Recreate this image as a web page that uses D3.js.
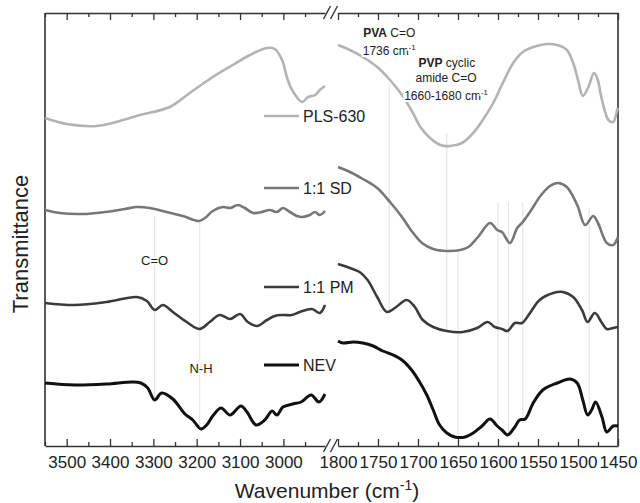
<!DOCTYPE html>
<html>
<head>
<meta charset="utf-8">
<script src="https://cdn.jsdelivr.net/npm/d3@7"></script>
<style>
body{margin:0;background:#fff}
svg{display:block;font-family:"Liberation Sans",Arial,sans-serif}
</style>
</head>
<body>
<svg id="chart" width="640" height="503"></svg>
<script>
// [wavenumber cm-1, transmittance a.u.]
var plsLeft = [[3550,328],[3500,322],[3431,320],[3394,323],[3331,331],[3262,339],[3216,353],[3163,369],[3117,381],[3077,391],[3038,398],[3020,397],[3003,386],[2992,369],[2980,356],[2957,344],[2943,349],[2927,351],[2916,356],[2904,360]];
var plsRight = [[1800,401],[1785,396],[1769,389],[1751,379],[1735,366],[1720,351],[1707,334],[1697,319],[1685,308],[1672,301],[1660,300],[1645,303],[1631,313],[1619,326],[1606,343],[1594,363],[1581,383],[1569,394],[1556,399],[1539,402],[1526,401],[1514,396],[1506,383],[1500,366],[1494,350],[1487,359],[1480,373],[1476,368],[1470,346],[1462,326],[1456,324],[1451,336],[1450,338]];
var sdLeft = [[3550,236],[3516,233],[3463,232],[3412,234],[3366,237],[3338,239],[3308,238],[3269,234],[3232,230],[3195,225],[3181,228],[3163,235],[3140,239],[3123,238],[3105,241],[3089,238],[3070,233],[3050,234],[3031,236],[3015,234],[3001,238],[2985,234],[2969,230],[2955,229],[2939,231],[2927,234],[2916,231],[2904,235]];
var sdRight = [[1800,279],[1785,274],[1769,267],[1751,258],[1735,244],[1720,229],[1707,214],[1695,203],[1681,197],[1664,195],[1647,196],[1637,199],[1625,209],[1610,223],[1601,216],[1595,214],[1585,203],[1576,218],[1569,224],[1560,234],[1547,250],[1535,260],[1525,263],[1514,259],[1501,241],[1491,221],[1481,230],[1475,223],[1464,203],[1456,201],[1450,209]];
var pmLeft = [[3550,143],[3482,141],[3408,144],[3338,149],[3315,145],[3297,136],[3278,141],[3255,134],[3223,124],[3193,117],[3170,124],[3147,131],[3123,127],[3100,132],[3082,124],[3061,120],[3038,126],[3020,130],[3001,131],[2980,131],[2962,134],[2934,137],[2916,133],[2904,141]];
var pmRight = [[1800,182],[1785,178],[1773,174],[1763,166],[1751,149],[1739,134],[1729,138],[1714,146],[1704,139],[1694,126],[1681,119],[1664,115],[1644,114],[1626,118],[1613,124],[1604,119],[1595,117],[1588,115],[1579,123],[1570,123],[1560,133],[1548,146],[1531,153],[1519,154],[1506,149],[1495,136],[1488,124],[1479,133],[1470,123],[1464,117],[1456,118],[1450,119]];
var nevLeft = [[3550,63],[3482,61],[3408,62],[3348,64],[3329,63],[3313,58],[3297,46],[3281,53],[3255,47],[3227,32],[3209,26],[3190,17],[3177,21],[3163,30],[3144,38],[3123,31],[3098,40],[3084,34],[3063,21],[3043,26],[3026,35],[3015,31],[3001,39],[2978,42],[2959,44],[2936,51],[2918,44],[2904,52]];
var nevRight = [[1800,105],[1794,103],[1781,104],[1769,103],[1756,100],[1744,95],[1731,91],[1720,86],[1708,76],[1698,64],[1689,51],[1681,36],[1673,21],[1664,13],[1654,9],[1641,9],[1631,13],[1620,20],[1610,27],[1601,20],[1595,16],[1588,11],[1579,19],[1573,26],[1566,27],[1556,43],[1544,56],[1526,63],[1510,67],[1501,63],[1494,46],[1488,31],[1483,36],[1478,44],[1470,29],[1464,14],[1456,20],[1450,20]];

var seriesNames = ["PLS-630", "1:1 SD", "1:1 PM", "NEV"];

// faint marker lines: wavenumber, top and bottom transmittance
var guideW = [3297, 3193, 1736, 1664, 1650, 1600, 1587, 1569, 1486];
var guideTop = [230, 225, 363, 313, 194, 244, 244, 244, 238];
var guideBottom = [47, 17, 134, 115, 9, 27, 11, 27, 31];

var leftMajor = [3500, 3400, 3300, 3200, 3100, 3000];
var leftMinor = [3550, 3450, 3350, 3250, 3150, 3050, 2950];
var rightMajor = [1800, 1750, 1700, 1650, 1600, 1550, 1500, 1450];
var rightMinor = [1775, 1725, 1675, 1625, 1575, 1525, 1475];

var svg = d3.select("#chart");
var plotTop = 13, plotBottom = 446;
var xL = d3.scaleLinear().domain([3550, 2904]).range([45, 325]);
var xR = d3.scaleLinear().domain([1800, 1450]).range([338, 618]);
var y = d3.scaleLinear().domain([0, 433]).range([plotBottom, plotTop]);
var xOf = function(w){ return w > 2000 ? xL(w) : xR(w); };

// guide lines
svg.append("g").selectAll("line")
	.data(guideW)
	.enter().append("line")
	.attr("x1", function(d){ return xOf(d); })
	.attr("x2", function(d){ return xOf(d); })
	.attr("y1", function(d,i){ return y(guideTop[i]); })
	.attr("y2", function(d,i){ return y(guideBottom[i]); })
	.style("stroke", "#e0e0e0")
	.style("stroke-width", "1px");

// axes
var drawAxis = function(scale, major, minor, isTop){
	var g = svg.append("g").attr("transform", "translate(0," + (isTop ? plotTop : plotBottom) + ")");
	var ax = isTop ? d3.axisTop(scale) : d3.axisBottom(scale);
	ax.tickValues(major).tickSizeInner(-7).tickSizeOuter(0).tickPadding(10)
	  .tickFormat(isTop ? "" : d3.format("d"));
	g.call(ax);
	g.attr("font-family", null).attr("font-size", null);
	g.select(".domain").style("stroke", "#333").style("stroke-width", "1.6px");
	g.selectAll(".tick line").style("stroke", "#333").style("stroke-width", "1.3px");
	g.selectAll(".tick text").style("font-size", "17px").style("fill", "#222");
	var g2 = svg.append("g").attr("transform", "translate(0," + (isTop ? plotTop : plotBottom) + ")");
	var ax2 = isTop ? d3.axisTop(scale) : d3.axisBottom(scale);
	g2.call(ax2.tickValues(minor).tickSizeInner(-4).tickSizeOuter(0).tickFormat(""));
	g2.select(".domain").remove();
	g2.selectAll(".tick line").style("stroke", "#333").style("stroke-width", "1.3px");
};
drawAxis(xL, leftMajor, leftMinor, false);
drawAxis(xR, rightMajor, rightMinor, false);
drawAxis(xL, leftMajor, leftMinor, true);
drawAxis(xR, rightMajor, rightMinor, true);

[xL.range()[0], xR.range()[1]].forEach(function(x){
	svg.append("line").attr("x1", x).attr("x2", x).attr("y1", plotTop).attr("y2", plotBottom)
		.style("stroke", "#333").style("stroke-width", "1.6px");
});

// axis break marks
var mid = (xL.range()[1] + xR.range()[0]) / 2;
[plotTop, plotBottom].forEach(function(yy){
	[-8, -1].forEach(function(dx){
		svg.append("line")
			.attr("x1", mid + dx).attr("y1", yy + 6)
			.attr("x2", mid + dx + 7).attr("y2", yy - 7)
			.style("stroke", "#333").style("stroke-width", "1.4px");
	});
});

// spectra
var series = [
	{name: seriesNames[0], left: plsLeft, right: plsRight, color: "#b3b3b3", width: 2.6, ly: 116},
	{name: seriesNames[1], left: sdLeft, right: sdRight, color: "#777", width: 2.6, ly: 188},
	{name: seriesNames[2], left: pmLeft, right: pmRight, color: "#3b3b3b", width: 2.6, ly: 287},
	{name: seriesNames[3], left: nevLeft, right: nevRight, color: "#111", width: 3, ly: 365}
];
var lineFor = function(scale){
	return d3.line()
		.x(function(d){ return scale(d[0]); })
		.y(function(d){ return y(d[1]); })
		.curve(d3.curveCatmullRom.alpha(0.5));
};
series.forEach(function(s){
	[[s.left, xL], [s.right, xR]].forEach(function(p){
		svg.append("path")
			.attr("d", lineFor(p[1])(p[0]))
			.style("fill", "none")
			.style("stroke", s.color)
			.style("stroke-width", s.width + "px")
			.style("stroke-linejoin", "round");
	});
	svg.append("line")
		.attr("x1", 264).attr("x2", 299).attr("y1", s.ly).attr("y2", s.ly)
		.style("stroke", s.color).style("stroke-width", s.width + "px");
	svg.append("text")
		.attr("x", 303).attr("y", s.ly + 6)
		.style("font-size", "16px").style("fill", "#222")
		.text(s.name);
});

// annotations
var note = function(x, yy, parts, size){
	var t = svg.append("text")
		.attr("x", x).attr("y", yy)
		.attr("text-anchor", "middle")
		.style("font-size", size + "px").style("fill", "#222")
		.style("stroke", "#fff").style("stroke-width", "4px").style("paint-order", "stroke");
	parts.forEach(function(p){
		var ts = t.append("tspan").text(p.t);
		if(p.b) ts.style("font-weight", "bold");
		if(p.sup) ts.attr("dy", -5).style("font-size", (size * 0.65) + "px");
	});
	return t;
};
note(xR(1736), 37, [{t: "PVA", b: true}, {t: " C=O"}], 12);
note(xR(1736), 55, [{t: "1736 cm"}, {t: "-1", sup: true}], 12);
note(xR(1664), 67, [{t: "PVP", b: true}, {t: " cyclic"}], 12);
note(xR(1665), 82, [{t: "amide C=O"}], 12);
note(xR(1665), 100, [{t: "1660-1680 cm"}, {t: "-1", sup: true}], 12);
note(xL(3297), 265, [{t: "C=O"}], 13);
note(xL(3190), 373, [{t: "N-H"}], 13);

// axis titles
svg.append("text")
	.attr("transform", "translate(28,244) rotate(-90)")
	.attr("text-anchor", "middle")
	.style("font-size", "22px").style("fill", "#222")
	.text("Transmittance");
var xt = svg.append("text")
	.attr("x", 327).attr("y", 498)
	.attr("text-anchor", "middle")
	.style("font-size", "21px").style("fill", "#222");
xt.append("tspan").text("Wavenumber (cm");
xt.append("tspan").attr("dy", -8).style("font-size", "14px").text("-1");
xt.append("tspan").attr("dy", 8).text(")");
</script>
</body>
</html>
